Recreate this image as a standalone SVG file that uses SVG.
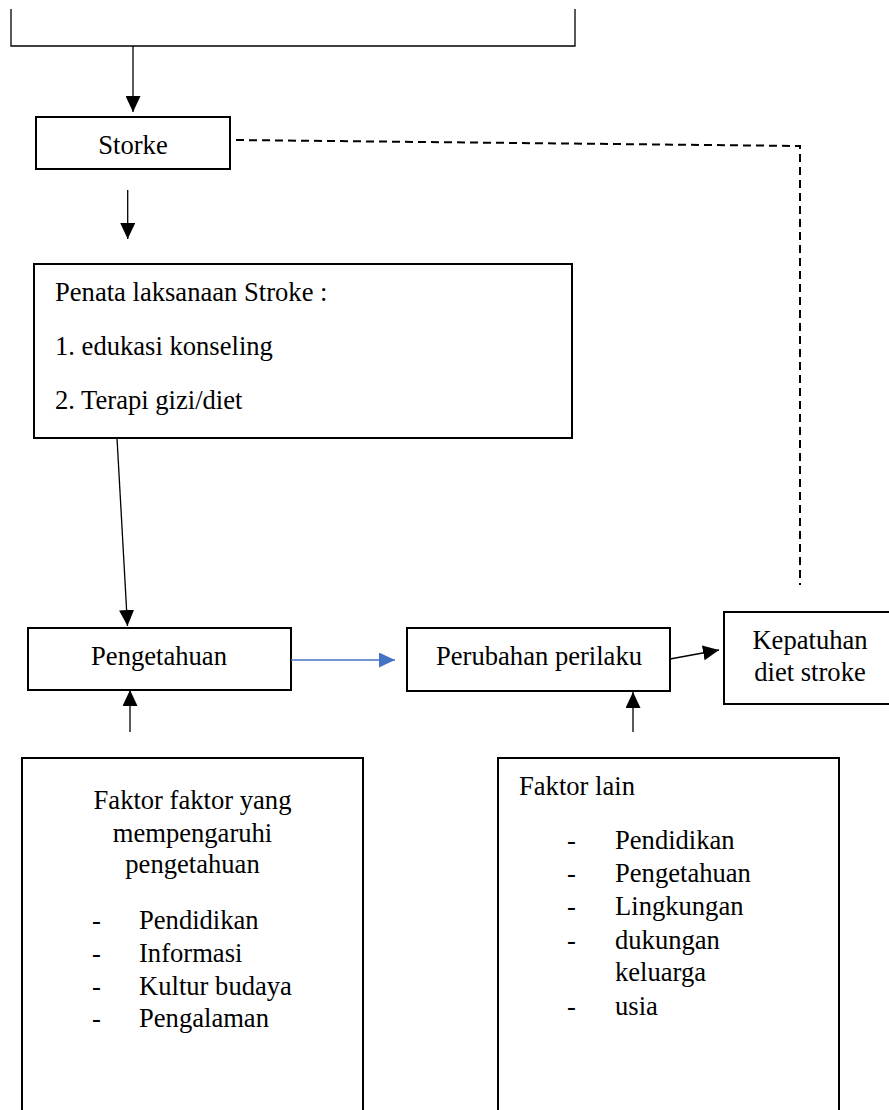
<svg xmlns="http://www.w3.org/2000/svg" width="889" height="1110" viewBox="0 0 889 1110">
<style>
.box{fill:#fff;stroke:#000;stroke-width:2}
.t{font-family:"Liberation Serif","Times New Roman",serif;font-size:26.6px;fill:#000}
.c{text-anchor:middle}
.ln{fill:none;stroke:#000;stroke-width:1.3}
.blue{fill:none;stroke:#4472C4;stroke-width:1.3}
.dash{fill:none;stroke:#000;stroke-width:2;stroke-dasharray:8,5}
</style>
<defs>
<marker id="ah" markerUnits="userSpaceOnUse" markerWidth="16" markerHeight="15" refX="16" refY="7.5" orient="auto">
<path d="M0,0 L16,7.5 L0,15 z" fill="#000"/>
</marker>
<marker id="ahb" markerUnits="userSpaceOnUse" markerWidth="16" markerHeight="15" refX="16" refY="7.5" orient="auto">
<path d="M0,0 L16,7.5 L0,15 z" fill="#4472C4"/>
</marker>
</defs>
<rect width="889" height="1110" fill="#fff"/>
<g id="top-box">
<polyline class="ln" points="11,9 11,46 575,46 575,9"/>
</g>
<g id="storke">
<rect class="box" x="36" y="117" width="194" height="52"/>
<text class="t c" x="133" y="154">Storke</text>
</g>
<g id="penatalaksanaan">
<rect class="box" x="34" y="264" width="538" height="174"/>
<text class="t" x="55" y="301">Penata laksanaan Stroke :</text>
<text class="t" x="55" y="355">1. edukasi konseling</text>
<text class="t" x="55" y="409">2. Terapi gizi/diet</text>
</g>
<g id="pengetahuan">
<rect class="box" x="28" y="628" width="263" height="62"/>
<text class="t c" x="159" y="665">Pengetahuan</text>
</g>
<g id="perubahan">
<rect class="box" x="407" y="628" width="263" height="63"/>
<text class="t c" x="539" y="665">Perubahan perilaku</text>
</g>
<g id="kepatuhan">
<rect class="box" x="724" y="612" width="172" height="92"/>
<text class="t c" x="810" y="649">Kepatuhan</text>
<text class="t c" x="810" y="681">diet stroke</text>
</g>
<g id="faktor-pengetahuan">
<rect class="box" x="22" y="758" width="341" height="370"/>
<text class="t c" x="192.5" y="809">Faktor faktor yang</text>
<text class="t c" x="192.5" y="842">mempengaruhi</text>
<text class="t c" x="192.5" y="873">pengetahuan</text>
<text class="t" x="92" y="929">-</text><text class="t" x="139" y="929">Pendidikan</text>
<text class="t" x="92" y="962">-</text><text class="t" x="139" y="962">Informasi</text>
<text class="t" x="92" y="995">-</text><text class="t" x="139" y="995">Kultur budaya</text>
<text class="t" x="92" y="1027">-</text><text class="t" x="139" y="1027">Pengalaman</text>
</g>
<g id="faktor-lain">
<rect class="box" x="498" y="758" width="341" height="370"/>
<text class="t" x="519" y="795">Faktor lain</text>
<text class="t" x="567" y="849">-</text><text class="t" x="615" y="849">Pendidikan</text>
<text class="t" x="567" y="882">-</text><text class="t" x="615" y="882">Pengetahuan</text>
<text class="t" x="567" y="915">-</text><text class="t" x="615" y="915">Lingkungan</text>
<text class="t" x="567" y="949">-</text><text class="t" x="615" y="949">dukungan</text>
<text class="t" x="615" y="981">keluarga</text>
<text class="t" x="567" y="1015">-</text><text class="t" x="615" y="1015">usia</text>
</g>
<g id="connectors">
<line class="ln" x1="133" y1="46" x2="133" y2="112" marker-end="url(#ah)"/>
<line class="ln" x1="127.7" y1="190" x2="127.7" y2="239" marker-end="url(#ah)"/>
<line class="ln" x1="117" y1="438" x2="127.5" y2="626" marker-end="url(#ah)"/>
<line class="blue" x1="291" y1="660" x2="395" y2="660" marker-end="url(#ahb)"/>
<line class="ln" x1="130" y1="732" x2="130" y2="690" marker-end="url(#ah)"/>
<line class="ln" x1="670" y1="659" x2="719" y2="650" marker-end="url(#ah)"/>
<line class="ln" x1="633" y1="732" x2="633" y2="692" marker-end="url(#ah)"/>
<polyline class="dash" points="236,140 800,146 800,585"/>
</g>
</svg>
